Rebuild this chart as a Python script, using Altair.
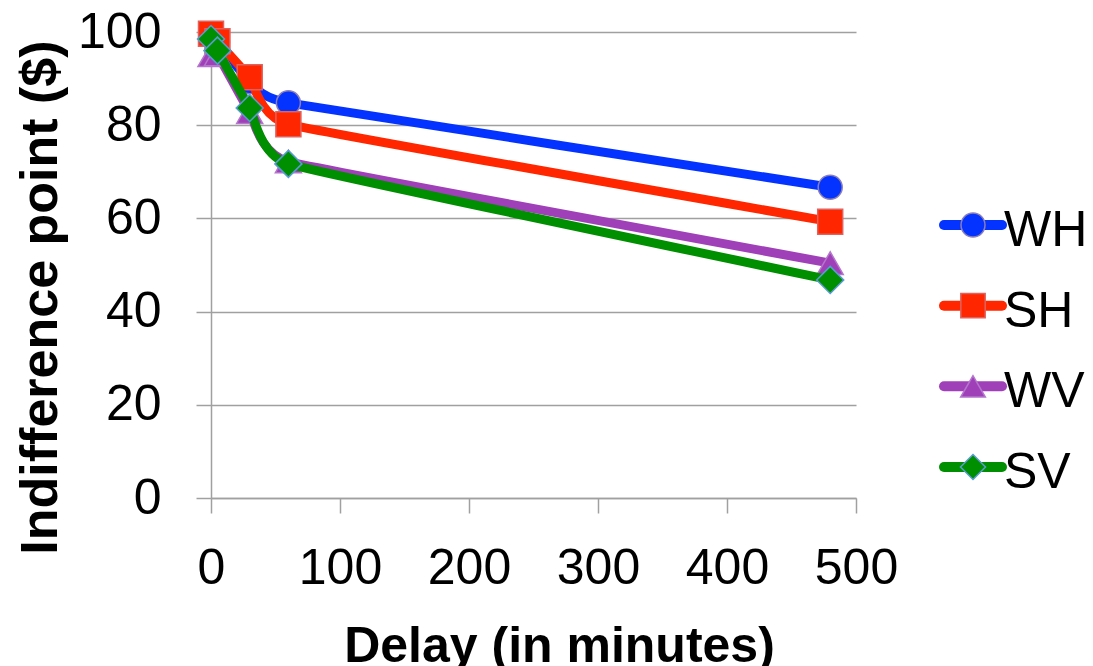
import altair as alt
import pandas as pd

# ---- data ----
delay = [0, 5, 30, 60, 480]
series = ["WH", "SH", "WV", "SV"]
wh = [99.3, 97.8, 89.3, 84.8, 66.7]
sh = [99.6, 98.0, 90.3, 80.2, 59.3]
wv = [95.0, 95.2, 82.8, 72.2, 50.4]
sv = [98.5, 96.0, 83.7, 71.7, 46.8]
x_ticks = [0, 100, 200, 300, 400, 500]
y_ticks = [0, 20, 40, 60, 80, 100]

# ---- styles ----
fills = ["#0433FF", "#FF2600", "#A040B8", "#008F00"]
edges = ["#8C7FB8", "#E0625C", "#B476CC", "#5B9BD5"]
shapes = ["circle", "square", "triangle-up", "diamond"]
sizes = [576, 625, 680, 729]
FONT = "Liberation Sans"

rows = []
for s, vals in zip(series, [wh, sh, wv, sv]):
    for d, v in zip(delay, vals):
        rows.append({"series": s, "delay": d, "value": v})
df = pd.DataFrame(rows)

x_enc = alt.X(
    "delay:Q",
    scale=alt.Scale(domain=[0, 500], nice=False),
    axis=alt.Axis(
        values=x_ticks, title="Delay (in minutes)", grid=False,
        domainColor="#A0A0A0", domainWidth=1.5, tickColor="#A0A0A0", tickWidth=1.5,
        tickSize=15, labelPadding=30, labelFont=FONT, labelFontSize=50,
        labelColor="#000000", titleFont=FONT, titleFontSize=50, titleFontWeight="bold",
        titleColor="#000000", titleX=348, titleY=163, titleAlign="center",
        titleBaseline="alphabetic", labelFlush=False,
    ),
)
y_enc = alt.Y(
    "value:Q",
    scale=alt.Scale(domain=[0, 100], nice=False),
    axis=alt.Axis(
        values=y_ticks, title="Indifference point ($)", grid=True,
        gridColor="#A0A0A0", gridWidth=1.5,
        domainColor="#A0A0A0", domainWidth=1.5, tickColor="#A0A0A0", tickWidth=1.5,
        tickSize=15, labelPadding=35, labelFont=FONT, labelFontSize=50,
        labelColor="#000000", titleFont=FONT, titleFontSize=52, titleFontWeight="bold",
        titleColor="#000000", titleX=-155, titleY=265, titleAngle=270,
        titleAlign="center", titleBaseline="alphabetic", labelFlush=False,
    ),
)

base = alt.Chart(df)
layers = []
for s, f, e, sh_, sz in zip(series, fills, edges, shapes, sizes):
    sub = base.transform_filter(alt.datum.series == s)
    layers.append(
        sub.mark_line(color=f, strokeWidth=9, interpolate="cardinal", tension=0.7,
                      strokeCap="round", strokeJoin="round").encode(x=x_enc, y=y_enc)
    )
    layers.append(
        sub.mark_point(shape=sh_, filled=True, fill=f, stroke=e, strokeWidth=1.5,
                       size=sz, opacity=1).encode(x=x_enc, y=y_enc)
    )

main = alt.layer(*layers).properties(width=645, height=466)

# ---- legend panel ----
leg_df = pd.DataFrame({"series": series})
leg_y = alt.Y("series:N", sort=series, axis=None,
              scale=alt.Scale(type="point", domain=series, range=[193, 435],
                              padding=0))
fill_scale = alt.Scale(domain=series, range=fills)
edge_scale = alt.Scale(domain=series, range=edges)
shape_scale = alt.Scale(domain=series, range=shapes)
size_scale = alt.Scale(domain=series, range=sizes)

leg_base = alt.Chart(leg_df)
leg_line = leg_base.mark_rule(strokeWidth=10, strokeCap="round").encode(
    x=alt.value(16), x2=alt.value(74), y=leg_y,
    color=alt.Color("series:N", scale=fill_scale, legend=None),
)
leg_pt = leg_base.mark_point(filled=True, strokeWidth=1.5, opacity=1).encode(
    x=alt.value(45), y=leg_y,
    fill=alt.Fill("series:N", scale=fill_scale, legend=None),
    stroke=alt.Stroke("series:N", scale=edge_scale, legend=None),
    shape=alt.Shape("series:N", scale=shape_scale, legend=None),
    size=alt.Size("series:N", scale=size_scale, legend=None),
)
leg_txt = leg_base.mark_text(align="left", baseline="middle", dy=6, font=FONT,
                             fontSize=50, color="#000000").encode(
    x=alt.value(76), y=leg_y, text="series:N"
)
legend = alt.layer(leg_line, leg_pt, leg_txt).resolve_scale(
    color="independent", fill="independent"
).properties(width=150, height=466)

chart = alt.hconcat(main, legend, spacing=30).resolve_scale(
    color="independent", fill="independent", stroke="independent",
    shape="independent", size="independent", y="independent",
).configure_view(stroke=None).properties(
    padding={"left": 13, "top": 7, "right": 5, "bottom": 5}
)

chart.save("out.html", embed_options={"renderer": "svg", "actions": False})
